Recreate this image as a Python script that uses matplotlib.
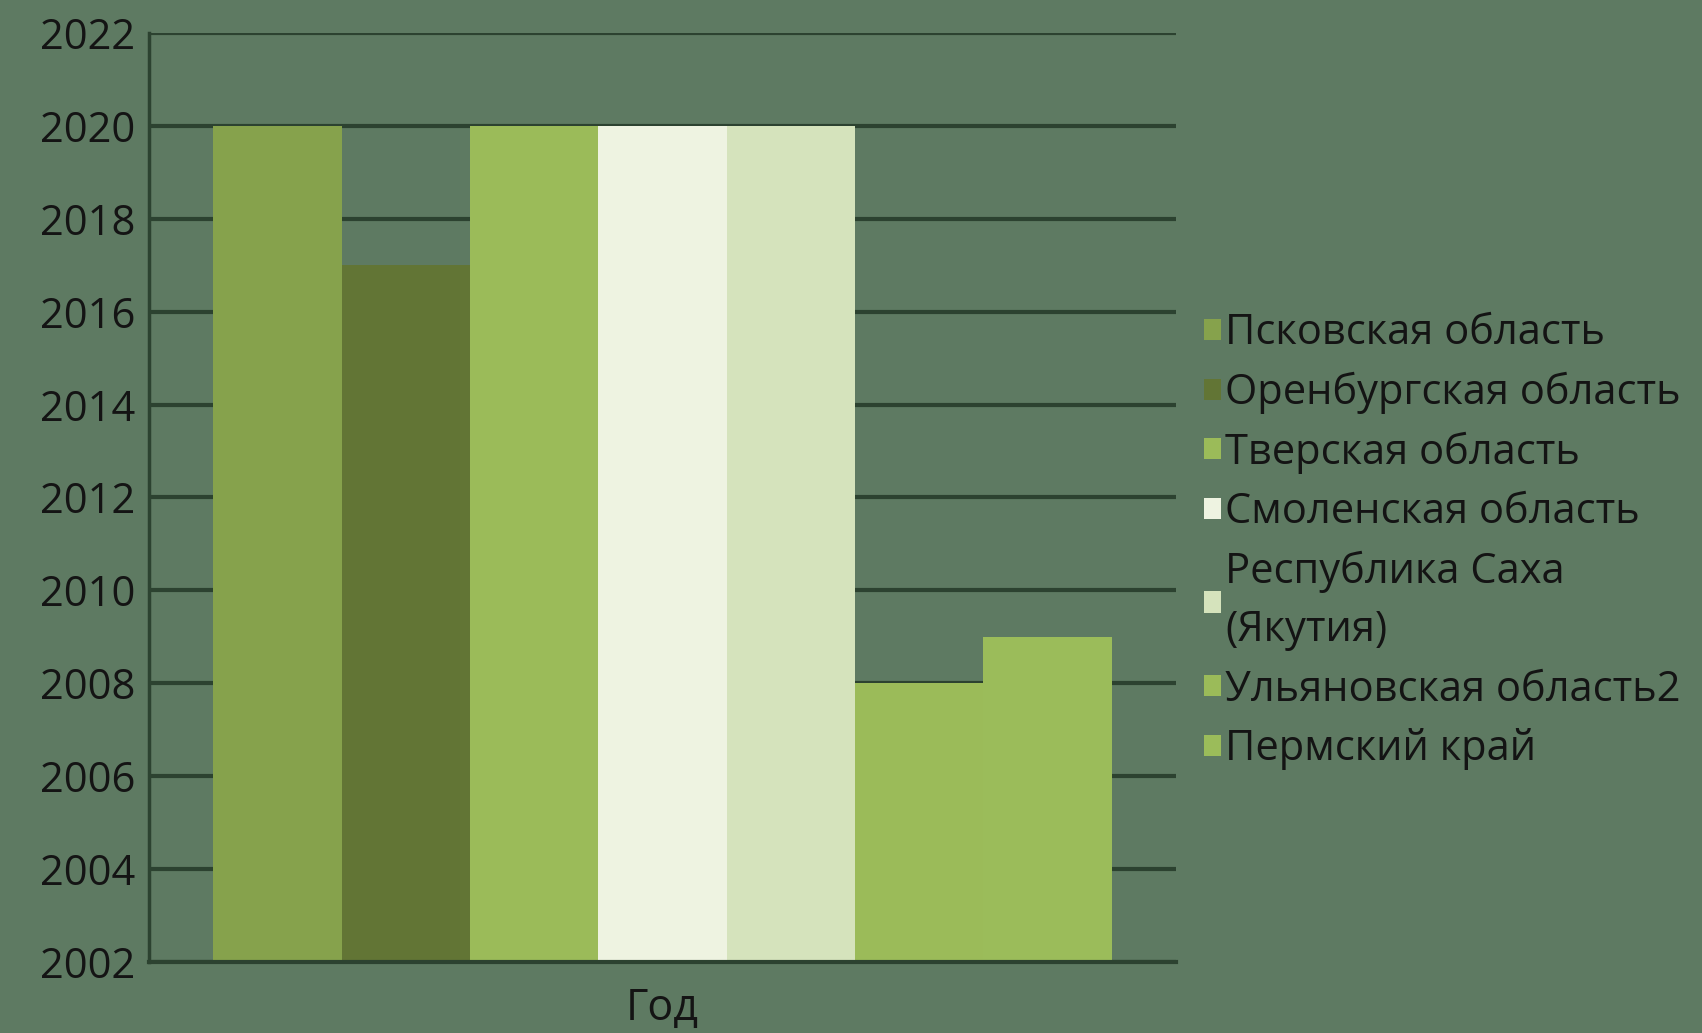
import matplotlib.pyplot as plt

regions = ["Псковская область", "Оренбургская область", "Тверская область",
           "Смоленская область", "Республика Саха\n(Якутия)",
           "Ульяновская область2", "Пермский край"]
years = [2020, 2017, 2020, 2020, 2020, 2008, 2009]
colors = ["#86A24C", "#627535", "#9BBB59", "#EEF3E1", "#D5E3BC", "#9BBB59", "#9BBC5A"]
category = "Год"
y_ticks = list(range(2002, 2023, 2))

bg = "#5E7A62"
dark = "#2C4230"
plt.rcParams['font.family'] = ['Open Sans', 'DejaVu Sans']

fig = plt.figure(figsize=(17.02, 10.33), dpi=100, facecolor=bg)
ax = fig.add_axes([0.0875, 0.069, 0.6035, 0.899])
ax.set_facecolor(bg)

ymin = y_ticks[0]
n = len(regions)
for i, (name, val, col) in enumerate(zip(regions, years, colors)):
    ax.bar(i - (n - 1) / 2, val - ymin, bottom=ymin, width=1.0, color=col,
           label=name, zorder=2)

ax.set_xlim(-4, 4)
ax.set_ylim(y_ticks[0], y_ticks[-1])
ax.set_yticks(y_ticks)
ax.set_xticks([])
ax.set_xlabel(category, fontsize=31, color="#141414", labelpad=18)
ax.tick_params(axis='y', length=0, labelsize=30, labelcolor="#141414", pad=10)
ax.yaxis.grid(True, color=dark, linewidth=3, zorder=0)
ax.set_axisbelow(True)
for s in ["top", "right"]:
    ax.spines[s].set_visible(False)
ax.spines["left"].set_color(dark)
ax.spines["left"].set_linewidth(2.5)
ax.spines["bottom"].set_color(dark)
ax.spines["bottom"].set_linewidth(3)

leg = fig.legend(loc="upper left", bbox_to_anchor=(0.6855, 0.734), frameon=False,
                 fontsize=30, handlelength=0.4, handleheight=0.4,
                 handletextpad=0.1, labelspacing=0.42, labelcolor="#141414")
for t in leg.get_texts():
    t.set_linespacing(1.5)

fig.savefig("out.png", dpi=100, facecolor=bg)
